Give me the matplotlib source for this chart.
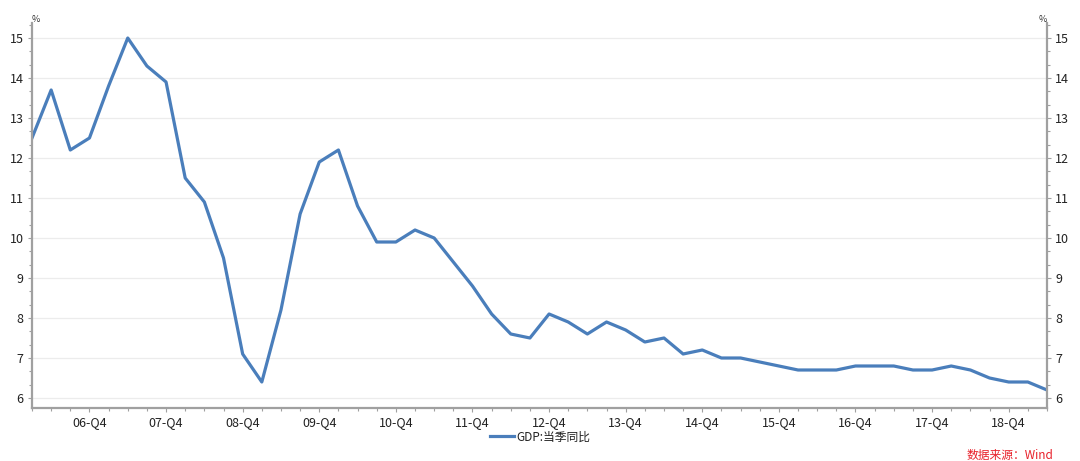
import matplotlib
matplotlib.use("Agg")
import matplotlib.pyplot as plt
from matplotlib.ticker import MultipleLocator, FixedLocator
import numpy as np

plt.rcParams['font.family'] = ['Noto Sans CJK SC', 'DejaVu Sans']

years = list(range(2006, 2020))
quarters = [f"{str(y)[2:]}-Q{q}" for y in years for q in range(1, 5)][:54]
gdp = [12.5, 13.7, 12.2, 12.5,
       13.8, 15.0, 14.3, 13.9,
       11.5, 10.9, 9.5, 7.1,
       6.4, 8.2, 10.6, 11.9,
       12.2, 10.8, 9.9, 9.9,
       10.2, 10.0, 9.4, 8.8,
       8.1, 7.6, 7.5, 8.1,
       7.9, 7.6, 7.9, 7.7,
       7.4, 7.5, 7.1, 7.2,
       7.0, 7.0, 6.9, 6.8,
       6.7, 6.7, 6.7, 6.8,
       6.8, 6.8, 6.7, 6.7,
       6.8, 6.7, 6.5, 6.4,
       6.4, 6.2]
yticks = [6, 7, 8, 9, 10, 11, 12, 13, 14, 15]
series_name = "GDP:当季同比"

fig = plt.figure(figsize=(10.8, 4.61), dpi=100)
ax = fig.add_axes([32/1080, 1-408/461, (1047-32)/1080, (408-23)/461])
x = np.arange(len(gdp))
line, = ax.plot(x, gdp, color='#4a7ebb', lw=2.3, solid_joinstyle='round')

ax.set_xlim(0, len(gdp)-1)
ax.set_ylim(5.75, 15.375)

spine_c = '#a0a0a0'
ax.spines['top'].set_visible(False)
for s in ['left', 'right', 'bottom']:
    ax.spines[s].set_color(spine_c)
    ax.spines[s].set_linewidth(1.6)

ax.set_yticks(yticks)
ax.yaxis.set_minor_locator(MultipleLocator(1/3))
ax.grid(axis='y', which='major', color='#ececec', lw=0.9)
ax.set_axisbelow(True)

q4_idx = [i for i, q in enumerate(quarters) if q.endswith('Q4')]
ax.set_xticks(q4_idx)
ax.set_xticklabels([quarters[i] for i in q4_idx])
ax.xaxis.set_minor_locator(FixedLocator(x))

ax.tick_params(axis='both', which='both', colors=spine_c, labelcolor='#222222', labelsize=9)
ax.tick_params(axis='y', which='major', length=3, width=0.8, pad=3, left=True, right=True,
               labelleft=True, labelright=True)
ax.tick_params(axis='y', which='minor', length=2, width=0.8, left=True, right=True)
ax.tick_params(axis='x', which='major', length=3, width=0.8, pad=3)
ax.tick_params(axis='x', which='minor', length=2, width=0.8)

fig.text(32/1080, 1-20/461, '%', fontsize=6.5, color='#333333', ha='left', va='center')
fig.text(1047/1080, 1-20/461, '%', fontsize=6.5, color='#333333', ha='right', va='center')

leg = fig.legend([line], [series_name], loc='center', bbox_to_anchor=(540/1080, 1-437/461),
                 frameon=False, fontsize=8.5, handlelength=2.0, handletextpad=0.2)
for t in leg.get_texts():
    t.set_color('#222222')

fig.text(1053/1080, 1-455/461, '数据来源：Wind', fontsize=8.5, color='#e8202a',
         style='italic', ha='right', va='center')

fig.savefig('out.png', dpi=100)
